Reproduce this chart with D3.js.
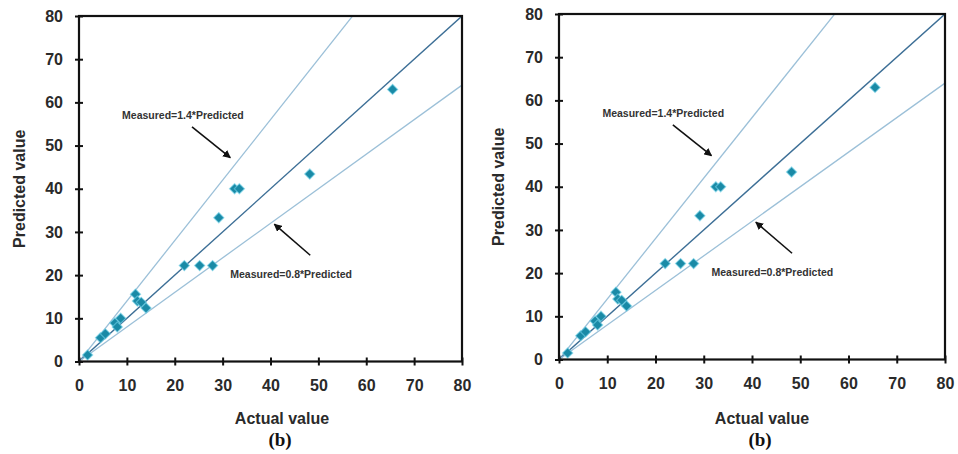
<!DOCTYPE html>
<html>
<head>
<meta charset="utf-8">
<script src="https://cdn.jsdelivr.net/npm/d3@7"></script>
<style>
  body { margin: 0; background: #fff; }
  text { font-family: "Liberation Sans", Arial, sans-serif; }
</style>
</head>
<body>
<script>
// measured (actual) vs predicted values
var actual    = [1.8, 4.5, 5.5, 7.5, 8.0, 8.7, 11.8, 12.2, 13.0, 14.0, 22.0, 25.2, 27.9, 29.2, 32.5, 33.5, 48.2, 65.5];
var predicted = [1.5, 5.5, 6.4, 8.9, 8.0, 10.0, 15.6, 14.0, 13.7, 12.4, 22.2, 22.2, 22.2, 33.3, 40.0, 40.0, 43.4, 63.0];
var ticks = [0, 10, 20, 30, 40, 50, 60, 70, 80];
var ratios = [1.4, 1.0, 0.8];          // reference lines y = k*x
var notes = ["Measured=1.4*Predicted", "Measured=0.8*Predicted"];

var width = 958, height = 454;
var svg = d3.select("body").append("svg").attr("width", width).attr("height", height);

// two identical panels, slightly different placement
var panels = [
  {left: 79, right: 462, top: 16, bottom: 361.5, ytitle: 19, xtitle: 282, id: "a"},
  {left: 559, right: 945, top: 14, bottom: 359.5, ytitle: 498, xtitle: 762, id: "b"}
];

svg.append("defs").append("marker")
  .attr("id", "arrow").attr("viewBox", "0 0 10 10")
  .attr("refX", 9).attr("refY", 5)
  .attr("markerWidth", 5).attr("markerHeight", 5)
  .attr("orient", "auto")
  .append("path").attr("d", "M0,0 L10,5 L0,10 z").attr("fill", "#111");

panels.forEach(function (p) {
  var x = d3.scaleLinear().domain([0, 80]).range([p.left, p.right]);
  var y = d3.scaleLinear().domain([0, 80]).range([p.bottom, p.top]);
  var g = svg.append("g");

  g.append("clipPath").attr("id", "clip" + p.id).append("rect")
    .attr("x", p.left).attr("y", p.top)
    .attr("width", p.right - p.left).attr("height", p.bottom - p.top);

  var lines = g.append("g").attr("clip-path", "url(#clip" + p.id + ")");
  lines.selectAll("line").data(ratios).enter().append("line")
    .attr("x1", x(0)).attr("y1", y(0))
    .attr("x2", x(80)).attr("y2", function (k) { return y(80 * k); })
    .attr("stroke", function (k) { return k == 1 ? "#3d6f96" : "#9cc0d8"; })
    .attr("stroke-width", function (k) { return k == 1 ? 1.4 : 1.3; });

  // diamonds = squares turned 45 degrees
  var pts = actual.map(function (a, i) { return [a, predicted[i]]; });
  g.selectAll("path.pt").data(pts).enter().append("path")
    .attr("class", "pt")
    .attr("d", d3.symbol().type(d3.symbolSquare).size(52))
    .attr("transform", function (d) { return "translate(" + x(d[0]) + "," + y(d[1]) + ") rotate(45)"; })
    .attr("fill", "#1a8aa6")
    .attr("stroke", "#6fd0e8").attr("stroke-width", 1.2).attr("stroke-opacity", 0.6);

  // frame
  g.append("rect")
    .attr("x", p.left).attr("y", p.top)
    .attr("width", p.right - p.left).attr("height", p.bottom - p.top)
    .attr("fill", "none").attr("stroke", "#111").attr("stroke-width", 2.2);

  var xAxis = d3.axisBottom(x).tickValues(ticks).tickSizeInner(4).tickSizeOuter(0).tickPadding(14);
  var yAxis = d3.axisLeft(y).tickValues(ticks).tickSizeInner(4).tickSizeOuter(0).tickPadding(12);

  var gx = g.append("g").attr("transform", "translate(0," + p.bottom + ")").call(xAxis);
  var gy = g.append("g").attr("transform", "translate(" + p.left + ",0)").call(yAxis);
  [gx, gy].forEach(function (ax) {
    ax.select(".domain").remove();
    ax.selectAll(".tick line").attr("stroke", "#111").attr("stroke-width", 2);
    ax.selectAll("text").attr("font-size", 16).attr("font-weight", "bold").attr("fill", "#2a2a2a");
  });
  gx.selectAll(".tick line").attr("y1", -4);
  gy.selectAll(".tick line").attr("x1", 4).attr("x2", -4);
  gx.selectAll("text").attr("dy", "0.71em");

  g.append("text")
    .attr("transform", "translate(" + p.ytitle + "," + (p.top + p.bottom) / 2 + ") rotate(-90)")
    .attr("text-anchor", "middle").attr("dy", "0.35em")
    .attr("font-size", 16).attr("font-weight", "bold").attr("fill", "#2a2a2a")
    .text("Predicted value");
  g.append("text")
    .attr("x", p.xtitle).attr("y", 418).attr("dy", "0.35em")
    .attr("text-anchor", "middle")
    .attr("font-size", 16).attr("font-weight", "bold").attr("fill", "#2a2a2a")
    .text("Actual value");
  g.append("text")
    .attr("x", p.xtitle - 2).attr("y", 439).attr("dy", "0.35em")
    .attr("text-anchor", "middle")
    .style("font-family", "'Liberation Serif', 'Times New Roman', serif")
    .attr("font-size", 19).attr("font-weight", "bold").attr("fill", "#111")
    .text("(b)");

  // annotations
  g.append("text").attr("x", x(9)).attr("y", y(57)).attr("dy", "0.35em")
    .attr("font-size", 10.5).attr("font-weight", "bold").attr("fill", "#333")
    .text(notes[0]);
  g.append("text").attr("x", x(31.6)).attr("y", y(20.3)).attr("dy", "0.35em")
    .attr("font-size", 10.5).attr("font-weight", "bold").attr("fill", "#333")
    .text(notes[1]);
  g.append("line")
    .attr("x1", x(23.6)).attr("y1", y(54.3)).attr("x2", x(31.6)).attr("y2", y(47.2))
    .attr("stroke", "#111").attr("stroke-width", 1.6).attr("marker-end", "url(#arrow)");
  g.append("line")
    .attr("x1", x(48.3)).attr("y1", y(24.6)).attr("x2", x(40.8)).attr("y2", y(31.8))
    .attr("stroke", "#111").attr("stroke-width", 1.6).attr("marker-end", "url(#arrow)");
});
</script>
</body>
</html>
